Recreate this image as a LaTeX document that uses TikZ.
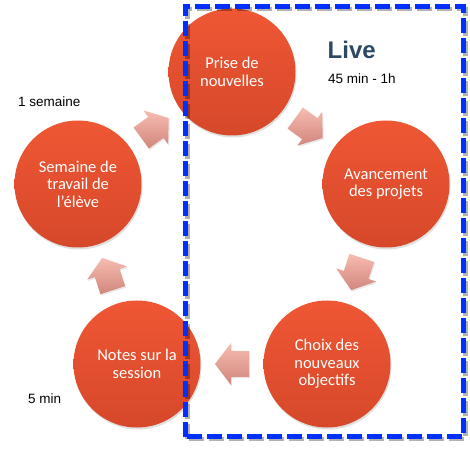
\documentclass[tikz,border=0pt]{standalone}
\usepackage{fontspec}
\setmainfont{Liberation Sans}
\newfontfamily\calfont{Carlito}
\usetikzlibrary{calc,shadows}
\definecolor{circtop}{RGB}{239,87,52}
\definecolor{circbot}{RGB}{214,72,42}
\definecolor{arrtop}{RGB}{246,188,177}
\definecolor{arrbot}{RGB}{210,134,124}
\definecolor{boxblue}{RGB}{0,48,255}
\definecolor{livecol}{RGB}{44,72,98}
\tikzset{
  stage/.style={circle, minimum size=127pt, inner sep=0pt, top color=circtop, bottom color=circbot,
    text=white, font=\calfont\fontsize{16.5}{17.5}\selectfont, align=center,
    drop shadow={opacity=0.25, shadow xshift=1pt, shadow yshift=-2pt}},
  arrowshade/.style={top color=arrtop, bottom color=arrbot,
    drop shadow={opacity=0.18, shadow xshift=1pt, shadow yshift=-1.5pt}},
  note/.style={anchor=base west, inner sep=0pt, font=\fontsize{13.5}{16}\selectfont},
  livebox/.style={draw=boxblue, line width=4.5pt, dash pattern=on 15pt off 5pt},
  liveshadow/.style={draw=black, line width=4.5pt, dash pattern=on 15pt off 5pt, draw opacity=0.3},
}
\newcommand\stagearrow[2]{%
  \shade[arrowshade] let \p1=(#1.center), \p2=(#2.center),
      \p3=($(#1.center)!0.5!(#2.center)$), \n1={atan2(\y2-\y1,\x2-\x1)} in
    ([shift={(\p3)}]\n1:17) -- ([shift={(\p3)}]{\n1+87.27}:21.02)
    -- ([shift={(\p3)}]{\n1+85.6}:13.04) -- ([shift={(\p3)}]{\n1+142.6}:21.4)
    -- ([shift={(\p3)}]{\n1-142.6}:21.4) -- ([shift={(\p3)}]{\n1-85.6}:13.04)
    -- ([shift={(\p3)}]{\n1-87.27}:21.02) -- cycle;%
}
\begin{document}
\begin{tikzpicture}[x=1pt,y=1pt]
\useasboundingbox (0,0) rectangle (470,449);
% stages
\node[stage] (prise) at (232,377) {Prise de\\nouvelles};
\node[stage] (avanc) at (386,265) {Avancement\\des projets};
\node[stage] (choix) at (327,85) {Choix des\\nouveaux\\objectifs};
\node[stage] (notes) at (137,85) {Notes sur la\\session};
\node[stage] (sem) at (78,265) {Semaine de\\travail de\\l’élève};
% block arrows
\stagearrow{sem}{prise}
\stagearrow{prise}{avanc}
\stagearrow{avanc}{choix}
\stagearrow{choix}{notes}
\stagearrow{notes}{sem}
% labels
\node[anchor=base west, inner sep=0pt, font=\bfseries\fontsize{24}{28}\selectfont, text=livecol] (live) at (327.5,390) {Live};
\node[note] (dur) at (328,365) {45 min - 1h};
\node[note] (week) at (18,342) {1 semaine};
\node[note] (five) at (28,46) {5 min};
% live box
\draw[liveshadow] (187.3,10) rectangle (465.5,440);
\draw[livebox] (185.3,12.5) rectangle (463.5,442.5);
\end{tikzpicture}
\end{document}
